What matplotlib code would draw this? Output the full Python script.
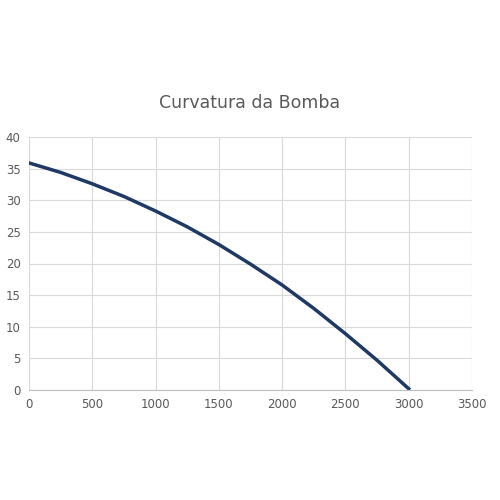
import matplotlib
matplotlib.use("Agg")
import matplotlib.pyplot as plt

vazao = [0, 250, 500, 750, 1000, 1250, 1500, 1750, 2000, 2250, 2500, 2750, 3000]
altura = [35.9, 34.4, 32.6, 30.6, 28.3, 25.8, 23.0, 19.9, 16.6, 12.9, 8.9, 4.7, 0.2]

fig = plt.figure(figsize=(5, 5), dpi=100)
ax = fig.add_axes([0.058, 0.22, 0.886, 0.506])
ax.plot(vazao, altura, color="#1F3864", linewidth=2.5)

ax.set_xlim(0, 3500)
ax.set_ylim(0, 40)
ax.set_xticks(range(0, 3501, 500))
ax.set_yticks(range(0, 41, 5))
ax.grid(color="#D9D9D9", linewidth=0.8)
ax.set_axisbelow(True)
for s in ["top", "right", "left"]:
    ax.spines[s].set_visible(False)
ax.spines["bottom"].set_color("#BFBFBF")
ax.tick_params(length=0, labelsize=8.5, colors="#595959", pad=6)
fig.text(0.5, 0.794, "Curvatura da Bomba", ha="center", va="center",
         fontsize=12.5, color="#595959")

fig.savefig("out.png")
